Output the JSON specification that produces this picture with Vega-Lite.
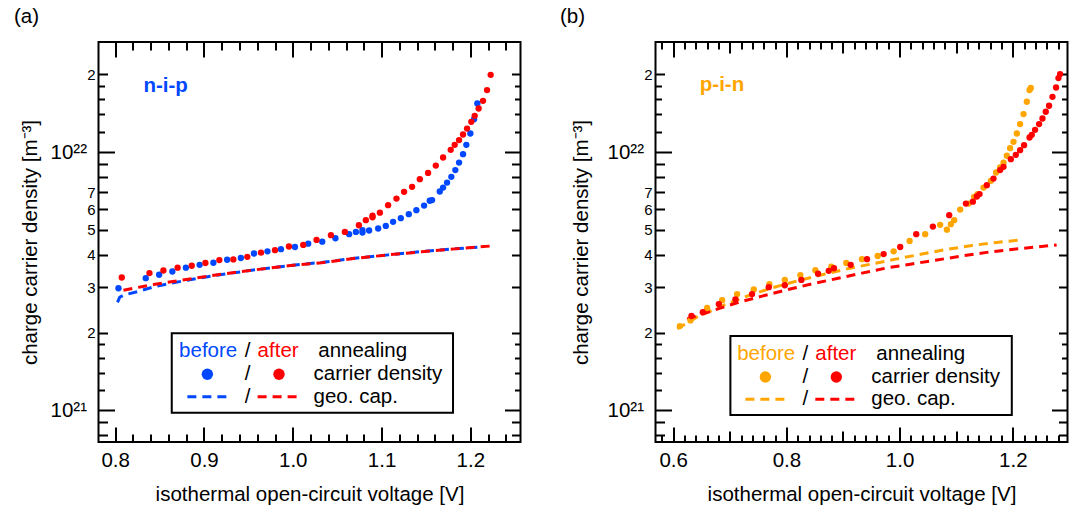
{
  "$schema": "https://vega.github.io/schema/vega-lite/v6.json",
  "padding": {"left": 12.5, "top": 5, "right": 0, "bottom": 0},
  "spacing": 36,
  "resolve": {"scale": {"color": "independent"}},
  "config": {
    "font": "Liberation Sans",
    "view": {"stroke": "black", "strokeWidth": 2},
    "axis": {"labelFont": "Liberation Sans", "titleFont": "Liberation Sans", "labelColor": "black", "titleColor": "black", "tickColor": "black", "titleFontWeight": "normal", "grid": false, "domain": false, "tickWidth": 2, "labelOverlap": false, "labelFlush": false, "labelBound": false},
    "text": {"font": "Liberation Sans"}
  },
  "datasets": {
    "nip": [
      {"V":0.8037,"N":2.97e21,"state":"before"},{"V":0.8344,"N":3.25e21,"state":"before"},{"V":0.8495,"N":3.35e21,"state":"before"},{"V":0.8644,"N":3.45e21,"state":"before"},{"V":0.8796,"N":3.57e21,"state":"before"},{"V":0.8951,"N":3.66e21,"state":"before"},{"V":0.9106,"N":3.73e21,"state":"before"},{"V":0.9261,"N":3.83e21,"state":"before"},{"V":0.9415,"N":3.89e21,"state":"before"},{"V":0.9563,"N":4.05e21,"state":"before"},{"V":0.9715,"N":4.13e21,"state":"before"},{"V":0.9867,"N":4.21e21,"state":"before"},{"V":1.0025,"N":4.29e21,"state":"before"},{"V":1.0174,"N":4.42e21,"state":"before"},{"V":1.0332,"N":4.50e21,"state":"before"},{"V":1.0481,"N":4.64e21,"state":"before"},{"V":1.0635,"N":4.81e21,"state":"before"},{"V":1.0711,"N":4.91e21,"state":"before"},{"V":1.0785,"N":4.99e21,"state":"before"},{"V":1.0785,"N":4.88e21,"state":"before"},{"V":1.0860,"N":4.97e21,"state":"before"},{"V":1.0962,"N":5.06e21,"state":"before"},{"V":1.1048,"N":5.18e21,"state":"before"},{"V":1.1130,"N":5.37e21,"state":"before"},{"V":1.1217,"N":5.55e21,"state":"before"},{"V":1.1307,"N":5.75e21,"state":"before"},{"V":1.1392,"N":5.96e21,"state":"before"},{"V":1.1479,"N":6.21e21,"state":"before"},{"V":1.1543,"N":6.48e21,"state":"before"},{"V":1.1569,"N":6.52e21,"state":"before"},{"V":1.1656,"N":7.04e21,"state":"before"},{"V":1.1693,"N":7.29e21,"state":"before"},{"V":1.1738,"N":7.62e21,"state":"before"},{"V":1.1786,"N":8.02e21,"state":"before"},{"V":1.1831,"N":8.52e21,"state":"before"},{"V":1.1873,"N":9.11e21,"state":"before"},{"V":1.1918,"N":9.82e21,"state":"before"},{"V":1.1955,"N":1.067e22,"state":"before"},{"V":1.2000,"N":1.181e22,"state":"before"},{"V":1.2042,"N":1.342e22,"state":"before"},{"V":1.2079,"N":1.543e22,"state":"before"},
      {"V":0.8074,"N":3.27e21,"state":"after"},{"V":0.8386,"N":3.40e21,"state":"after"},{"V":0.8543,"N":3.48e21,"state":"after"},{"V":0.8703,"N":3.57e21,"state":"after"},{"V":0.8862,"N":3.63e21,"state":"after"},{"V":0.9016,"N":3.72e21,"state":"after"},{"V":0.9173,"N":3.82e21,"state":"after"},{"V":0.9331,"N":3.84e21,"state":"after"},{"V":0.9488,"N":3.93e21,"state":"after"},{"V":0.9642,"N":4.08e21,"state":"after"},{"V":0.9800,"N":4.17e21,"state":"after"},{"V":0.9957,"N":4.31e21,"state":"after"},{"V":1.0118,"N":4.37e21,"state":"after"},{"V":1.0268,"N":4.57e21,"state":"after"},{"V":1.0430,"N":4.77e21,"state":"after"},{"V":1.0587,"N":4.91e21,"state":"after"},{"V":1.0745,"N":5.21e21,"state":"after"},{"V":1.0823,"N":5.45e21,"state":"after"},{"V":1.0898,"N":5.67e21,"state":"after"},{"V":1.0898,"N":5.59e21,"state":"after"},{"V":1.0981,"N":5.83e21,"state":"after"},{"V":1.1074,"N":6.23e21,"state":"after"},{"V":1.1168,"N":6.61e21,"state":"after"},{"V":1.1254,"N":7.02e21,"state":"after"},{"V":1.1344,"N":7.34e21,"state":"after"},{"V":1.1431,"N":7.86e21,"state":"after"},{"V":1.1524,"N":8.31e21,"state":"after"},{"V":1.1611,"N":8.87e21,"state":"after"},{"V":1.1693,"N":9.53e21,"state":"after"},{"V":1.1779,"N":1.021e22,"state":"after"},{"V":1.1824,"N":1.067e22,"state":"after"},{"V":1.1873,"N":1.113e22,"state":"after"},{"V":1.1918,"N":1.170e22,"state":"after"},{"V":1.1963,"N":1.234e22,"state":"after"},{"V":1.2011,"N":1.310e22,"state":"after"},{"V":1.2049,"N":1.382e22,"state":"after"},{"V":1.2094,"N":1.476e22,"state":"after"},{"V":1.2143,"N":1.580e22,"state":"after"},{"V":1.2188,"N":1.739e22,"state":"after"},{"V":1.2229,"N":1.993e22,"state":"after"}
    ],
    "nipcap": [
      {"V":0.8026,"N":2.62e21,"state":"before"},{"V":0.805,"N":2.74e21,"state":"before"},{"V":0.81,"N":2.80e21,"state":"before"},{"V":0.825,"N":2.88e21,"state":"before"},{"V":0.845,"N":3.02e21,"state":"before"},{"V":0.8824,"N":3.20e21,"state":"before"},{"V":0.9199,"N":3.36e21,"state":"before"},{"V":0.9575,"N":3.50e21,"state":"before"},{"V":0.9949,"N":3.63e21,"state":"before"},{"V":1.0324,"N":3.74e21,"state":"before"},{"V":1.07,"N":3.88e21,"state":"before"},{"V":1.1074,"N":4.00e21,"state":"before"},{"V":1.1449,"N":4.12e21,"state":"before"},{"V":1.1824,"N":4.22e21,"state":"before"},{"V":1.2079,"N":4.28e21,"state":"before"},
      {"V":0.8093,"N":2.92e21,"state":"after"},{"V":0.845,"N":3.08e21,"state":"after"},{"V":0.8824,"N":3.22e21,"state":"after"},{"V":0.9199,"N":3.37e21,"state":"after"},{"V":0.9575,"N":3.50e21,"state":"after"},{"V":0.9949,"N":3.63e21,"state":"after"},{"V":1.0324,"N":3.73e21,"state":"after"},{"V":1.07,"N":3.88e21,"state":"after"},{"V":1.1074,"N":4.00e21,"state":"after"},{"V":1.1449,"N":4.11e21,"state":"after"},{"V":1.1824,"N":4.22e21,"state":"after"},{"V":1.2236,"N":4.33e21,"state":"after"}
    ],
    "pin": [
      {"V":0.6119,"N":2.12e21,"state":"before"},{"V":0.6306,"N":2.23e21,"state":"before"},{"V":0.6600,"N":2.49e21,"state":"before"},{"V":0.6865,"N":2.67e21,"state":"before"},{"V":0.7130,"N":2.82e21,"state":"before"},{"V":0.7424,"N":2.94e21,"state":"before"},{"V":0.7700,"N":3.08e21,"state":"before"},{"V":0.7972,"N":3.20e21,"state":"before"},{"V":0.8247,"N":3.34e21,"state":"before"},{"V":0.8512,"N":3.49e21,"state":"before"},{"V":0.8794,"N":3.60e21,"state":"before"},{"V":0.9058,"N":3.72e21,"state":"before"},{"V":0.9335,"N":3.85e21,"state":"before"},{"V":0.9613,"N":3.96e21,"state":"before"},{"V":0.9895,"N":4.13e21,"state":"before"},{"V":1.0177,"N":4.53e21,"state":"before"},{"V":1.0452,"N":4.81e21,"state":"before"},{"V":1.0717,"N":5.23e21,"state":"before"},{"V":1.0835,"N":5.01e21,"state":"before"},{"V":1.0906,"N":5.26e21,"state":"before"},{"V":1.0964,"N":5.45e21,"state":"before"},{"V":1.1070,"N":5.99e21,"state":"before"},{"V":1.1218,"N":6.32e21,"state":"before"},{"V":1.1317,"N":6.71e21,"state":"before"},{"V":1.1377,"N":6.88e21,"state":"before"},{"V":1.1483,"N":7.29e21,"state":"before"},{"V":1.1612,"N":7.74e21,"state":"before"},{"V":1.1705,"N":8.34e21,"state":"before"},{"V":1.1776,"N":8.72e21,"state":"before"},{"V":1.1836,"N":9.11e21,"state":"before"},{"V":1.1894,"N":9.68e21,"state":"before"},{"V":1.1952,"N":1.036e22,"state":"before"},{"V":1.2012,"N":1.096e22,"state":"before"},{"V":1.2071,"N":1.181e22,"state":"before"},{"V":1.2129,"N":1.284e22,"state":"before"},{"V":1.2189,"N":1.404e22,"state":"before"},{"V":1.2247,"N":1.567e22,"state":"before"},{"V":1.2295,"N":1.739e22,"state":"before"},{"V":1.2318,"N":1.771e22,"state":"before"},
      {"V":0.6323,"N":2.32e21,"state":"after"},{"V":0.6524,"N":2.40e21,"state":"after"},{"V":0.6807,"N":2.58e21,"state":"after"},{"V":0.7100,"N":2.69e21,"state":"after"},{"V":0.7394,"N":2.82e21,"state":"after"},{"V":0.7689,"N":3.00e21,"state":"after"},{"V":0.7972,"N":3.05e21,"state":"after"},{"V":0.8264,"N":3.20e21,"state":"after"},{"V":0.8559,"N":3.38e21,"state":"after"},{"V":0.8748,"N":3.47e21,"state":"after"},{"V":0.8841,"N":3.55e21,"state":"after"},{"V":0.9136,"N":3.66e21,"state":"after"},{"V":0.9424,"N":3.85e21,"state":"after"},{"V":0.9718,"N":4.03e21,"state":"after"},{"V":1.0011,"N":4.29e21,"state":"after"},{"V":1.0294,"N":4.81e21,"state":"after"},{"V":1.0588,"N":5.15e21,"state":"after"},{"V":1.0876,"N":5.70e21,"state":"after"},{"V":1.1171,"N":6.32e21,"state":"after"},{"V":1.1294,"N":6.43e21,"state":"after"},{"V":1.1365,"N":6.73e21,"state":"after"},{"V":1.1412,"N":6.88e21,"state":"after"},{"V":1.1541,"N":7.45e21,"state":"after"},{"V":1.1659,"N":7.90e21,"state":"after"},{"V":1.1776,"N":8.52e21,"state":"after"},{"V":1.1836,"N":8.77e21,"state":"after"},{"V":1.1965,"N":9.39e21,"state":"after"},{"V":1.2053,"N":9.76e21,"state":"after"},{"V":1.2129,"N":1.018e22,"state":"after"},{"V":1.2199,"N":1.064e22,"state":"after"},{"V":1.2295,"N":1.139e22,"state":"after"},{"V":1.2335,"N":1.167e22,"state":"after"},{"V":1.2393,"N":1.220e22,"state":"after"},{"V":1.2464,"N":1.284e22,"state":"after"},{"V":1.2524,"N":1.350e22,"state":"after"},{"V":1.2582,"N":1.433e22,"state":"after"},{"V":1.2640,"N":1.512e22,"state":"after"},{"V":1.2700,"N":1.638e22,"state":"after"},{"V":1.2764,"N":1.780e22,"state":"after"},{"V":1.2806,"N":1.935e22,"state":"after"},{"V":1.2835,"N":2.006e22,"state":"after"}
    ],
    "pincap": [
      {"V":0.6071,"N":2.07e21,"state":"before"},{"V":0.6424,"N":2.30e21,"state":"before"},{"V":0.6865,"N":2.54e21,"state":"before"},{"V":0.7306,"N":2.77e21,"state":"before"},{"V":0.7747,"N":2.98e21,"state":"before"},{"V":0.8188,"N":3.17e21,"state":"before"},{"V":0.8629,"N":3.35e21,"state":"before"},{"V":0.9071,"N":3.53e21,"state":"before"},{"V":0.9512,"N":3.69e21,"state":"before"},{"V":0.9953,"N":3.86e21,"state":"before"},{"V":1.0394,"N":4.03e21,"state":"before"},{"V":1.0835,"N":4.20e21,"state":"before"},{"V":1.1277,"N":4.35e21,"state":"before"},{"V":1.1718,"N":4.47e21,"state":"before"},{"V":1.2159,"N":4.57e21,"state":"before"},
      {"V":0.6248,"N":2.26e21,"state":"after"},{"V":0.6689,"N":2.43e21,"state":"after"},{"V":0.7130,"N":2.61e21,"state":"after"},{"V":0.7571,"N":2.77e21,"state":"after"},{"V":0.8012,"N":2.93e21,"state":"after"},{"V":0.8453,"N":3.09e21,"state":"after"},{"V":0.8894,"N":3.24e21,"state":"after"},{"V":0.9335,"N":3.40e21,"state":"after"},{"V":0.9775,"N":3.56e21,"state":"after"},{"V":1.0216,"N":3.69e21,"state":"after"},{"V":1.0657,"N":3.82e21,"state":"after"},{"V":1.1098,"N":3.96e21,"state":"after"},{"V":1.1539,"N":4.09e21,"state":"after"},{"V":1.1980,"N":4.20e21,"state":"after"},{"V":1.2421,"N":4.29e21,"state":"after"},{"V":1.2774,"N":4.37e21,"state":"after"}
    ]
  },
  "hconcat": [
    {
      "width": 422,
      "height": 400,
      "title": {"text": "(a)", "anchor": "start", "frame": "bounds", "fontSize": 20.5, "fontWeight": "normal", "font": "Liberation Sans", "color": "black", "offset": 14, "dx": -6},
      "resolve": {"axis": {"x": "independent", "y": "independent"}},
      "layer": [
        {
          "data": {"name": "nipcap"},
          "mark": {"type": "line", "strokeWidth": 3, "strokeDash": [9, 6]},
          "encoding": {
            "x": {"field": "V", "type": "quantitative", "scale": {"domain": [0.7812, 1.2565], "nice": false, "zero": false},
                  "axis": {"orient": "bottom", "values": [0.8, 0.9, 1.0, 1.1, 1.2], "format": ".1f", "tickSize": -15, "labelFontSize": 20.5, "labelPadding": 23.5, "title": "isothermal open-circuit voltage [V]", "titleFontSize": 20.5, "titlePadding": 13.5}},
            "y": {"field": "N", "type": "quantitative", "scale": {"type": "log", "domain": [7.54e20, 2.67e22], "nice": false},
                  "axis": {"orient": "left", "values": [1e21, 1e22], "tickSize": -16, "labelExpr": "datum.value > 5e21 ? '10²²' : '10²¹'", "labelFontSize": 20.5, "labelPadding": 28, "title": "charge carrier density [m⁻³]", "titleFontSize": 20.5, "titlePadding": 10}},
            "color": {"field": "state", "type": "nominal", "scale": {"domain": ["before", "after"], "range": ["#0048ff", "#ff0000"]}, "legend": null}
          }
        },
        {
          "data": {"name": "nip"},
          "mark": {"type": "circle", "size": 40, "opacity": 1},
          "encoding": {
            "x": {"field": "V", "type": "quantitative", "scale": {"domain": [0.7812, 1.2565], "nice": false, "zero": false},
                  "axis": {"orient": "bottom", "values": [0.8,0.82,0.84,0.86,0.88,0.9,0.92,0.94,0.96,0.98,1.0,1.02,1.04,1.06,1.08,1.1,1.12,1.14,1.16,1.18,1.2,1.22,1.24], "tickSize": -8, "labels": false, "title": null}},
            "y": {"field": "N", "type": "quantitative", "scale": {"type": "log", "domain": [7.54e20, 2.67e22], "nice": false},
                  "axis": {"orient": "left", "values": [8e20, 9e20, 2e21, 3e21, 4e21, 5e21, 6e21, 7e21, 8e21, 9e21, 2e22], "tickSize": -9, "labelExpr": "datum.value > 1.5e22 ? '2' : (datum.value > 1.5e21 && datum.value < 7.5e21 ? format(datum.value / 1e21, '.0f') : '')", "labelFontSize": 15, "labelPadding": 12.5, "title": null}},
            "color": {"field": "state", "type": "nominal", "scale": {"domain": ["before", "after"], "range": ["#0048ff", "#ff0000"]}, "legend": null}
          }
        },
        {
          "data": {"values": [{}]},
          "mark": {"type": "rect", "fill": "white", "stroke": "black", "strokeWidth": 2},
          "encoding": {
            "x": {"datum": 0.8637, "type": "quantitative", "scale": {"domain": [0.7812, 1.2565], "nice": false, "zero": false},
                  "axis": {"orient": "top", "values": [0.8, 0.9, 1.0, 1.1, 1.2], "tickSize": -15, "labels": false, "title": null}},
            "x2": {"datum": 1.1805},
            "y": {"datum": 1.988e21, "type": "quantitative", "scale": {"type": "log", "domain": [7.54e20, 2.67e22], "nice": false},
                  "axis": {"orient": "left", "values": [1.2e21, 1.4e21, 1.6e21, 1.8e21, 1.2e22, 1.4e22, 1.6e22, 1.8e22], "tickSize": -6, "labels": false, "title": null}},
            "y2": {"datum": 9.79e20}
          }
        },
        {
          "data": {"values": [{}]},
          "mark": {"type": "text", "text": "before", "align": "left", "baseline": "alphabetic", "fontSize": 20.5, "color": "#0048ff"},
          "encoding": {
            "x": {"datum": 0.872, "type": "quantitative", "scale": {"domain": [0.7812, 1.2565], "nice": false, "zero": false},
                  "axis": {"orient": "top", "values": [0.8,0.82,0.84,0.86,0.88,0.9,0.92,0.94,0.96,0.98,1.0,1.02,1.04,1.06,1.08,1.1,1.12,1.14,1.16,1.18,1.2,1.22,1.24], "tickSize": -8, "labels": false, "title": null}},
            "y": {"datum": 1.609e21, "type": "quantitative", "scale": {"type": "log", "domain": [7.54e20, 2.67e22], "nice": false},
                  "axis": {"orient": "right", "values": [1e21, 1e22], "tickSize": -16, "labels": false, "title": null}}
          }
        },
        {
          "data": {"values": [{}]},
          "mark": {"type": "text", "text": "/", "align": "center", "baseline": "alphabetic", "fontSize": 20.5, "color": "black"},
          "encoding": {
            "x": {"datum": 0.9491, "type": "quantitative", "scale": {"domain": [0.7812, 1.2565], "nice": false, "zero": false}, "axis": null},
            "y": {"datum": 1.609e21, "type": "quantitative", "scale": {"type": "log", "domain": [7.54e20, 2.67e22], "nice": false},
                  "axis": {"orient": "right", "values": [8e20, 9e20, 2e21, 3e21, 4e21, 5e21, 6e21, 7e21, 8e21, 9e21, 2e22], "tickSize": -9, "labels": false, "title": null}}
          }
        },
        {
          "data": {"values": [{}]},
          "mark": {"type": "text", "text": "after", "align": "left", "baseline": "alphabetic", "fontSize": 20.5, "color": "#ff0000"},
          "encoding": {
            "x": {"datum": 0.9604, "type": "quantitative", "scale": {"domain": [0.7812, 1.2565], "nice": false, "zero": false}, "axis": null},
            "y": {"datum": 1.609e21, "type": "quantitative", "scale": {"type": "log", "domain": [7.54e20, 2.67e22], "nice": false},
                  "axis": {"orient": "right", "values": [1.2e21, 1.4e21, 1.6e21, 1.8e21, 1.2e22, 1.4e22, 1.6e22, 1.8e22], "tickSize": -6, "labels": false, "title": null}}
          }
        },
        {
          "data": {"values": [{}]},
          "mark": {"type": "text", "text": "annealing", "align": "left", "baseline": "alphabetic", "fontSize": 20.5, "color": "black"},
          "encoding": {
            "x": {"datum": 1.0287, "type": "quantitative", "axis": null},
            "y": {"datum": 1.609e21, "type": "quantitative", "axis": null}
          }
        },
        {
          "data": {"values": [{}]},
          "mark": {"type": "circle", "size": 130, "opacity": 1, "color": "#0048ff"},
          "encoding": {
            "x": {"datum": 0.9038, "type": "quantitative", "axis": null},
            "y": {"datum": 1.379e21, "type": "quantitative", "axis": null}
          }
        },
        {
          "data": {"values": [{}]},
          "mark": {"type": "text", "text": "/", "align": "center", "baseline": "alphabetic", "fontSize": 20.5, "color": "black"},
          "encoding": {
            "x": {"datum": 0.9491, "type": "quantitative", "axis": null},
            "y": {"datum": 1.311e21, "type": "quantitative", "axis": null}
          }
        },
        {
          "data": {"values": [{}]},
          "mark": {"type": "circle", "size": 130, "opacity": 1, "color": "#ff0000"},
          "encoding": {
            "x": {"datum": 0.9845, "type": "quantitative", "axis": null},
            "y": {"datum": 1.379e21, "type": "quantitative", "axis": null}
          }
        },
        {
          "data": {"values": [{}]},
          "mark": {"type": "text", "text": "carrier density", "align": "left", "baseline": "alphabetic", "fontSize": 20.5, "color": "black"},
          "encoding": {
            "x": {"datum": 1.0234, "type": "quantitative", "axis": null},
            "y": {"datum": 1.311e21, "type": "quantitative", "axis": null}
          }
        },
        {
          "data": {"values": [{}]},
          "mark": {"type": "rule", "strokeWidth": 3, "strokeDash": [9, 6], "color": "#0048ff"},
          "encoding": {
            "x": {"datum": 0.8813, "type": "quantitative", "axis": null},
            "x2": {"datum": 0.9255},
            "y": {"datum": 1.129e21, "type": "quantitative", "axis": null}
          }
        },
        {
          "data": {"values": [{}]},
          "mark": {"type": "text", "text": "/", "align": "center", "baseline": "alphabetic", "fontSize": 20.5, "color": "black"},
          "encoding": {
            "x": {"datum": 0.9491, "type": "quantitative", "axis": null},
            "y": {"datum": 1.07e21, "type": "quantitative", "axis": null}
          }
        },
        {
          "data": {"values": [{}]},
          "mark": {"type": "rule", "strokeWidth": 3, "strokeDash": [9, 6], "color": "#ff0000"},
          "encoding": {
            "x": {"datum": 0.9604, "type": "quantitative", "axis": null},
            "x2": {"datum": 1.007},
            "y": {"datum": 1.129e21, "type": "quantitative", "axis": null}
          }
        },
        {
          "data": {"values": [{}]},
          "mark": {"type": "text", "text": "geo. cap.", "align": "left", "baseline": "alphabetic", "fontSize": 20.5, "color": "black"},
          "encoding": {
            "x": {"datum": 1.0234, "type": "quantitative", "axis": null},
            "y": {"datum": 1.07e21, "type": "quantitative", "axis": null}
          }
        },
        {
          "data": {"values": [{}]},
          "mark": {"type": "text", "text": "n-i-p", "align": "left", "baseline": "alphabetic", "fontSize": 20.5, "fontWeight": "bold", "color": "#0048ff"},
          "encoding": {
            "x": {"datum": 0.8318, "type": "quantitative", "axis": null},
            "y": {"datum": 1.717e22, "type": "quantitative", "axis": null}
          }
        }
      ]
    },
    {
      "width": 412,
      "height": 400,
      "title": {"text": "(b)", "anchor": "start", "frame": "bounds", "fontSize": 20.5, "fontWeight": "normal", "font": "Liberation Sans", "color": "black", "offset": 14, "dx": -11},
      "resolve": {"axis": {"x": "independent", "y": "independent"}},
      "layer": [
        {
          "data": {"name": "pincap"},
          "mark": {"type": "line", "strokeWidth": 3, "strokeDash": [9, 6]},
          "encoding": {
            "x": {"field": "V", "type": "quantitative", "scale": {"domain": [0.5688, 1.2966], "nice": false, "zero": false},
                  "axis": {"orient": "bottom", "values": [0.6, 0.8, 1.0, 1.2], "format": ".1f", "tickSize": -15, "labelFontSize": 20.5, "labelPadding": 23.5, "title": "isothermal open-circuit voltage [V]", "titleFontSize": 20.5, "titlePadding": 13.5}},
            "y": {"field": "N", "type": "quantitative", "scale": {"type": "log", "domain": [7.54e20, 2.67e22], "nice": false},
                  "axis": {"orient": "left", "values": [1e21, 1e22], "tickSize": -16, "labelExpr": "datum.value > 5e21 ? '10²²' : '10²¹'", "labelFontSize": 20.5, "labelPadding": 28, "title": "charge carrier density [m⁻³]", "titleFontSize": 20.5, "titlePadding": 16}},
            "color": {"field": "state", "type": "nominal", "scale": {"domain": ["before", "after"], "range": ["#ffa500", "#ff0000"]}, "legend": null}
          }
        },
        {
          "data": {"name": "pin"},
          "mark": {"type": "circle", "size": 40, "opacity": 1},
          "encoding": {
            "x": {"field": "V", "type": "quantitative", "scale": {"domain": [0.5688, 1.2966], "nice": false, "zero": false},
                  "axis": {"orient": "bottom", "values": [0.58,0.6,0.62,0.64,0.66,0.68,0.7,0.72,0.74,0.76,0.78,0.8,0.82,0.84,0.86,0.88,0.9,0.92,0.94,0.96,0.98,1.0,1.02,1.04,1.06,1.08,1.1,1.12,1.14,1.16,1.18,1.2,1.22,1.24,1.26,1.28], "tickSize": -7, "labels": false, "title": null}},
            "y": {"field": "N", "type": "quantitative", "scale": {"type": "log", "domain": [7.54e20, 2.67e22], "nice": false},
                  "axis": {"orient": "left", "values": [8e20, 9e20, 2e21, 3e21, 4e21, 5e21, 6e21, 7e21, 8e21, 9e21, 2e22], "tickSize": -9, "labelExpr": "datum.value > 1.5e22 ? '2' : (datum.value > 1.5e21 && datum.value < 7.5e21 ? format(datum.value / 1e21, '.0f') : '')", "labelFontSize": 15, "labelPadding": 12.5, "title": null}},
            "color": {"field": "state", "type": "nominal", "scale": {"domain": ["before", "after"], "range": ["#ffa500", "#ff0000"]}, "legend": null}
          }
        },
        {
          "data": {"values": [{}]},
          "mark": {"type": "rect", "fill": "white", "stroke": "black", "strokeWidth": 2},
          "encoding": {
            "x": {"datum": 0.7011, "type": "quantitative", "scale": {"domain": [0.5688, 1.2966], "nice": false, "zero": false},
                  "axis": {"orient": "bottom", "values": [0.7, 0.9, 1.1], "tickSize": -11, "labels": false, "title": null}},
            "x2": {"datum": 1.1982},
            "y": {"datum": 1.941e21, "type": "quantitative", "scale": {"type": "log", "domain": [7.54e20, 2.67e22], "nice": false},
                  "axis": {"orient": "left", "values": [1.2e21, 1.4e21, 1.6e21, 1.8e21, 1.2e22, 1.4e22, 1.6e22, 1.8e22], "tickSize": -6, "labels": false, "title": null}},
            "y2": {"datum": 9.59e20}
          }
        },
        {
          "data": {"values": [{}]},
          "mark": {"type": "text", "text": "before", "align": "left", "baseline": "alphabetic", "fontSize": 20.5, "color": "#ffa500"},
          "encoding": {
            "x": {"datum": 0.713, "type": "quantitative", "scale": {"domain": [0.5688, 1.2966], "nice": false, "zero": false},
                  "axis": {"orient": "top", "values": [0.6, 0.8, 1.0, 1.2], "tickSize": -15, "labels": false, "title": null}},
            "y": {"datum": 1.562e21, "type": "quantitative", "scale": {"type": "log", "domain": [7.54e20, 2.67e22], "nice": false},
                  "axis": {"orient": "right", "values": [1e21, 1e22], "tickSize": -16, "labels": false, "title": null}}
          }
        },
        {
          "data": {"values": [{}]},
          "mark": {"type": "text", "text": "/", "align": "center", "baseline": "alphabetic", "fontSize": 20.5, "color": "black"},
          "encoding": {
            "x": {"datum": 0.8335, "type": "quantitative", "scale": {"domain": [0.5688, 1.2966], "nice": false, "zero": false},
                  "axis": {"orient": "top", "values": [0.7, 0.9, 1.1], "tickSize": -11, "labels": false, "title": null}},
            "y": {"datum": 1.562e21, "type": "quantitative", "scale": {"type": "log", "domain": [7.54e20, 2.67e22], "nice": false},
                  "axis": {"orient": "right", "values": [8e20, 9e20, 2e21, 3e21, 4e21, 5e21, 6e21, 7e21, 8e21, 9e21, 2e22], "tickSize": -9, "labels": false, "title": null}}
          }
        },
        {
          "data": {"values": [{}]},
          "mark": {"type": "text", "text": "after", "align": "left", "baseline": "alphabetic", "fontSize": 20.5, "color": "#ff0000"},
          "encoding": {
            "x": {"datum": 0.8511, "type": "quantitative", "scale": {"domain": [0.5688, 1.2966], "nice": false, "zero": false},
                  "axis": {"orient": "top", "values": [0.58,0.6,0.62,0.64,0.66,0.68,0.7,0.72,0.74,0.76,0.78,0.8,0.82,0.84,0.86,0.88,0.9,0.92,0.94,0.96,0.98,1.0,1.02,1.04,1.06,1.08,1.1,1.12,1.14,1.16,1.18,1.2,1.22,1.24,1.26,1.28], "tickSize": -7, "labels": false, "title": null}},
            "y": {"datum": 1.562e21, "type": "quantitative", "scale": {"type": "log", "domain": [7.54e20, 2.67e22], "nice": false},
                  "axis": {"orient": "right", "values": [1.2e21, 1.4e21, 1.6e21, 1.8e21, 1.2e22, 1.4e22, 1.6e22, 1.8e22], "tickSize": -6, "labels": false, "title": null}}
          }
        },
        {
          "data": {"values": [{}]},
          "mark": {"type": "text", "text": "annealing", "align": "left", "baseline": "alphabetic", "fontSize": 20.5, "color": "black"},
          "encoding": {
            "x": {"datum": 0.9588, "type": "quantitative", "axis": null},
            "y": {"datum": 1.562e21, "type": "quantitative", "axis": null}
          }
        },
        {
          "data": {"values": [{}]},
          "mark": {"type": "circle", "size": 130, "opacity": 1, "color": "#ffa500"},
          "encoding": {
            "x": {"datum": 0.7629, "type": "quantitative", "axis": null},
            "y": {"datum": 1.346e21, "type": "quantitative", "axis": null}
          }
        },
        {
          "data": {"values": [{}]},
          "mark": {"type": "text", "text": "/", "align": "center", "baseline": "alphabetic", "fontSize": 20.5, "color": "black"},
          "encoding": {
            "x": {"datum": 0.8335, "type": "quantitative", "axis": null},
            "y": {"datum": 1.279e21, "type": "quantitative", "axis": null}
          }
        },
        {
          "data": {"values": [{}]},
          "mark": {"type": "circle", "size": 130, "opacity": 1, "color": "#ff0000"},
          "encoding": {
            "x": {"datum": 0.8882, "type": "quantitative", "axis": null},
            "y": {"datum": 1.346e21, "type": "quantitative", "axis": null}
          }
        },
        {
          "data": {"values": [{}]},
          "mark": {"type": "text", "text": "carrier density", "align": "left", "baseline": "alphabetic", "fontSize": 20.5, "color": "black"},
          "encoding": {
            "x": {"datum": 0.95, "type": "quantitative", "axis": null},
            "y": {"datum": 1.279e21, "type": "quantitative", "axis": null}
          }
        },
        {
          "data": {"values": [{}]},
          "mark": {"type": "rule", "strokeWidth": 3, "strokeDash": [9, 6], "color": "#ffa500"},
          "encoding": {
            "x": {"datum": 0.7276, "type": "quantitative", "axis": null},
            "x2": {"datum": 0.7982},
            "y": {"datum": 1.103e21, "type": "quantitative", "axis": null}
          }
        },
        {
          "data": {"values": [{}]},
          "mark": {"type": "text", "text": "/", "align": "center", "baseline": "alphabetic", "fontSize": 20.5, "color": "black"},
          "encoding": {
            "x": {"datum": 0.8335, "type": "quantitative", "axis": null},
            "y": {"datum": 1.048e21, "type": "quantitative", "axis": null}
          }
        },
        {
          "data": {"values": [{}]},
          "mark": {"type": "rule", "strokeWidth": 3, "strokeDash": [9, 6], "color": "#ff0000"},
          "encoding": {
            "x": {"datum": 0.8511, "type": "quantitative", "axis": null},
            "x2": {"datum": 0.9247},
            "y": {"datum": 1.103e21, "type": "quantitative", "axis": null}
          }
        },
        {
          "data": {"values": [{}]},
          "mark": {"type": "text", "text": "geo. cap.", "align": "left", "baseline": "alphabetic", "fontSize": 20.5, "color": "black"},
          "encoding": {
            "x": {"datum": 0.95, "type": "quantitative", "axis": null},
            "y": {"datum": 1.048e21, "type": "quantitative", "axis": null}
          }
        },
        {
          "data": {"values": [{}]},
          "mark": {"type": "text", "text": "p-i-n", "align": "left", "baseline": "alphabetic", "fontSize": 20.5, "fontWeight": "bold", "color": "#ffa500"},
          "encoding": {
            "x": {"datum": 0.6471, "type": "quantitative", "axis": null},
            "y": {"datum": 1.728e22, "type": "quantitative", "axis": null}
          }
        }
      ]
    }
  ]
}
